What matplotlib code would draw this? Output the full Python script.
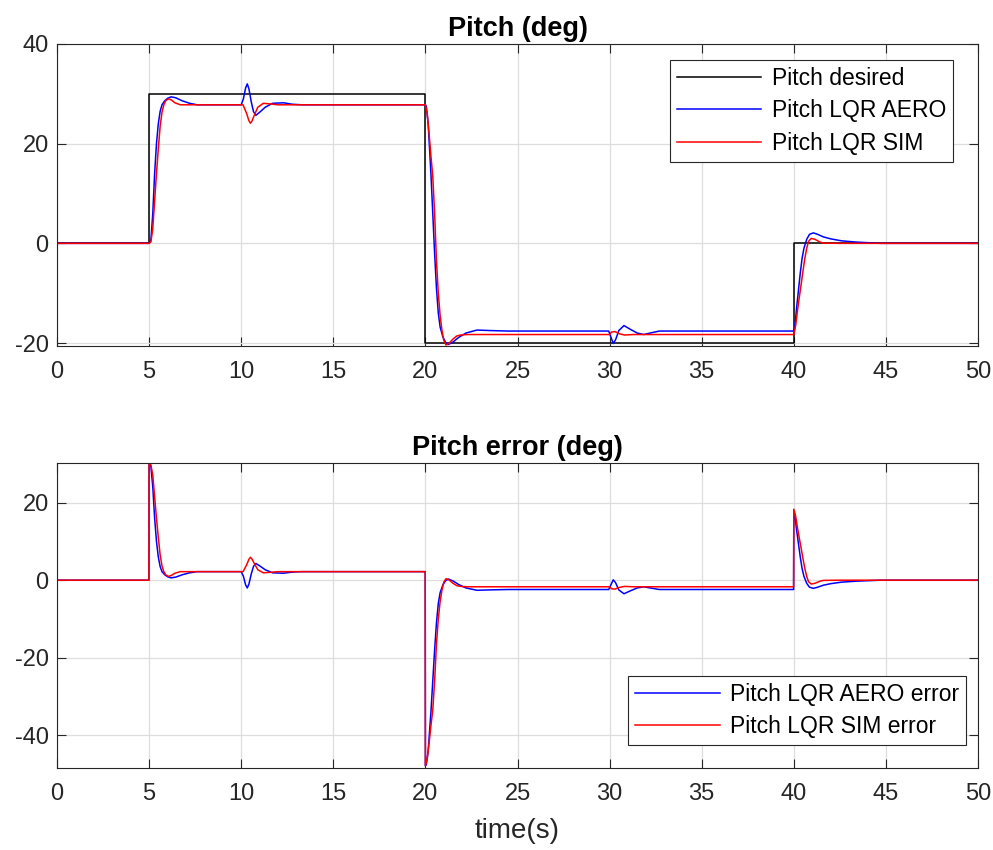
import numpy as np
import matplotlib
matplotlib.use("Agg")
import matplotlib.pyplot as plt

# desired pitch: step levels between switch times
step_times = [5, 20, 40]
step_levels = [0, 30, -20, 0]
t_end = 50

# Pitch LQR AERO (blue)
aero_t = [0, 4.99, 5.0, 5.1, 5.2, 5.3, 5.4, 5.5, 5.6, 5.7, 5.85, 6.0, 6.2, 6.45,
          6.8, 7.2, 7.6, 10.0, 10.12, 10.24, 10.33, 10.42, 10.54, 10.67, 10.8,
          11.0, 11.3, 11.7, 12.3, 12.8, 13.3, 19.99, 20.0, 20.05, 20.15, 20.3,
          20.4, 20.5, 20.6, 20.7, 20.8, 20.95, 21.1, 21.25, 21.5, 21.8, 22.2,
          22.8, 23.5, 24.5, 29.95, 30.08, 30.2, 30.33, 30.5, 30.78, 31.1, 31.5,
          31.85, 32.2, 32.7, 39.99, 40.0, 40.05, 40.15, 40.25, 40.35, 40.45,
          40.55, 40.7, 40.85, 41.06, 41.3, 41.6, 42.0, 42.6, 43.4, 44.7, 50]
aero_v = [0, 0, 0, 0.8, 6, 14, 20, 24, 26.5, 27.8, 28.6, 29.1, 29.4, 29.2,
          28.6, 28.1, 27.8, 27.8, 29.0, 31.2, 32.0, 31.0, 28.5, 26.4, 25.7,
          26.3, 27.3, 28.1, 28.2, 27.9, 27.8, 27.8, 27.8, 27.5, 24, 14,
          6, -2, -9, -14, -16.8, -18.8, -19.9, -20.3, -19.8, -18.9, -18.0,
          -17.4, -17.5, -17.6, -17.6, -18.9, -20.1, -19.3, -17.5, -16.5, -17.2, -18.0,
          -18.3, -18.0, -17.6, -17.6, -17.6, -17.0, -13, -9.5, -6, -3,
          -1, 0.8, 1.8, 2.1, 1.8, 1.3, 0.9, 0.5, 0.25, 0, 0]

# Pitch LQR SIM (red)
sim_t = [0, 4.99, 5.0, 5.1, 5.2, 5.3, 5.4, 5.5, 5.6, 5.7, 5.8, 5.9, 6.04, 6.2,
         6.4, 6.7, 10.1, 10.3, 10.42, 10.5, 10.58, 10.7, 10.9, 11.2, 11.5, 12.0,
         19.99, 20.0, 20.1, 20.2, 20.3, 20.4, 20.5, 20.6, 20.7, 20.8, 20.9, 21.0,
         21.12, 21.3, 21.5, 21.7, 21.9, 22.3, 30.0, 30.1, 30.3, 30.5, 30.8, 31.3,
         39.99, 40.0, 40.1, 40.2, 40.3, 40.4, 40.5, 40.6, 40.7, 40.8, 40.95,
         41.15, 41.4, 41.6, 42.5, 50]
sim_v = [0, 0, 0, 0.3, 3, 8.5, 14, 19, 23.5, 26.3, 27.8, 28.6, 29.0, 28.8,
         28.2, 27.8, 27.8, 26.0, 24.6, 24.1, 24.5, 25.6, 27.3, 28.1, 28.0, 27.8,
         27.8, 27.8, 26, 22, 17.5, 13.5, 6, -3.5, -10, -14.5, -17.5, -19.5,
         -20.4, -20.0, -19.2, -18.6, -18.4, -18.3, -18.3, -17.8, -17.7, -18.1, -18.4, -18.3,
         -18.3, -18.3, -16.5, -13.5, -10.8, -8.2, -5.5, -3, -1, 0.4, 1.0,
         0.8, 0.3, 0.05, 0, 0]

x_ticks = [0, 5, 10, 15, 20, 25, 30, 35, 40, 45, 50]
pitch_ticks = [-20, 0, 20, 40]
err_ticks = [-40, -20, 0, 20]


def desired_at(t):
    idx = np.searchsorted(step_times, t, side="right")
    return np.asarray(step_levels)[idx]


des_t = np.concatenate([[0], np.repeat(step_times, 2), [t_end]])
des_v = np.repeat(step_levels, 2)

aero_err = desired_at(np.asarray(aero_t)) - np.asarray(aero_v)
sim_err = desired_at(np.asarray(sim_t)) - np.asarray(sim_v)

plt.rcParams["font.family"] = ["Liberation Sans", "DejaVu Sans"]
plt.rcParams["axes.unicode_minus"] = False
axcol = "#262626"

fig = plt.figure(figsize=(9.93, 8.5), dpi=100)
ax1 = fig.add_axes([57 / 993, 1 - 346 / 850, 921 / 993, 302 / 850])
ax2 = fig.add_axes([57 / 993, 1 - 768 / 850, 921 / 993, 305 / 850])


def style(ax):
    ax.grid(True, color="#dedede", lw=0.9)
    ax.set_axisbelow(True)
    ax.tick_params(direction="in", length=6.5, width=0.8, top=True, right=True,
                   labelsize=17, colors=axcol, pad=6)
    ax.tick_params(axis="x", pad=10.5)
    for s in ax.spines.values():
        s.set_color(axcol)
        s.set_linewidth(0.8)
    ax.set_xlim(0, t_end)
    ax.set_xticks(x_ticks)


def add_legend(ax, anchor, loc):
    leg = ax.legend(loc=loc, bbox_to_anchor=anchor, borderaxespad=0, fontsize=16.5,
                    handlelength=3.7, handletextpad=0.45, labelspacing=0.41,
                    borderpad=0.3, fancybox=False, framealpha=1, edgecolor=axcol)
    leg.get_frame().set_linewidth(0.8)


ax1.plot(des_t, des_v, color="black", lw=1.1, label="Pitch desired")
ax1.plot(aero_t, aero_v, color="blue", lw=1.1, label="Pitch LQR AERO")
ax1.plot(sim_t, sim_v, color="red", lw=1.1, label="Pitch LQR SIM")
style(ax1)
ax1.set_ylim(-20.6, 40)
ax1.set_yticks(pitch_ticks)
ax1.set_title("Pitch (deg)", fontsize=19.5, fontweight="bold", pad=6)
add_legend(ax1, (896 / 921, 286 / 302), "upper right")

ax2.plot(aero_t, aero_err, color="blue", lw=1.1, label="Pitch LQR AERO error")
ax2.plot(sim_t, sim_err, color="red", lw=1.1, label="Pitch LQR SIM error")
style(ax2)
ax2.set_ylim(-48.4, 30.2)
ax2.set_yticks(err_ticks)
ax2.set_title("Pitch error (deg)", fontsize=19.5, fontweight="bold", pad=6)
ax2.set_xlabel("time(s)", fontsize=20, color=axcol, labelpad=10)
add_legend(ax2, (909 / 921, 23 / 305), "lower right")

fig.savefig("out.png", dpi=100)
